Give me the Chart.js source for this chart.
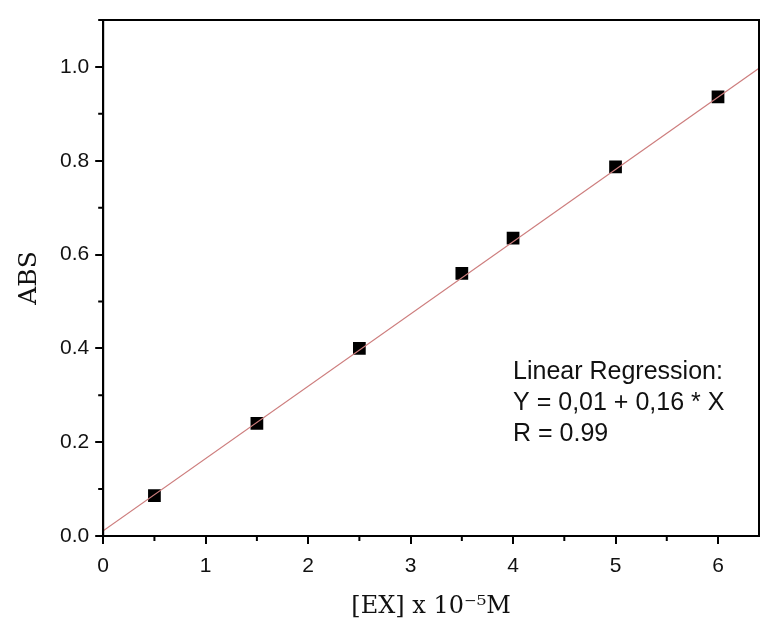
<!DOCTYPE html>
<html lang="en">

<head>
    <meta charset="UTF-8">
    <title>ABS vs [EX]</title>
    <script src="https://cdn.jsdelivr.net/npm/chart.js"></script>
    <style>
        html, body { margin: 0; padding: 0; background: #fff; }
        #wrap { width: 762px; height: 629px; }
    </style>
</head>

<body>
    <div id="wrap"><canvas id="absChart" width="762" height="629"></canvas></div>

    <script>
        const concX = [0.5, 1.5, 2.5, 3.5, 4.0, 5.0, 6.0];
        const absY = [0.086, 0.24, 0.40, 0.56, 0.635, 0.787, 0.936];

        // regression line ends (as drawn on the plot)
        const fitX = [0, 6.4];
        const fitY = [0.011, 0.997];

        const xTicks = [0, 1, 2, 3, 4, 5, 6];
        const yTicks = [0.0, 0.2, 0.4, 0.6, 0.8, 1.0];
        const noteLines = ['Linear Regression:', 'Y = 0,01 + 0,16 * X', 'R = 0.99'];

        // minor ticks + frame + regression note
        const extras = {
            id: 'extras',
            afterDraw(chart) {
                const ctx = chart.ctx;
                const area = chart.chartArea;
                const xs = chart.scales.x;
                const ys = chart.scales.y;
                ctx.save();
                ctx.strokeStyle = '#000';
                ctx.lineWidth = 2;
                ctx.strokeRect(area.left, area.top, area.right - area.left, area.bottom - area.top);

                // minor ticks halfway between majors
                ctx.beginPath();
                for (let i = 0; i < xTicks.length; i++) {
                    const px = xs.getPixelForValue(xTicks[i] + 0.5);
                    if (px > area.right) continue;
                    ctx.moveTo(px, area.bottom);
                    ctx.lineTo(px, area.bottom + 5);
                }
                for (let i = 0; i < yTicks.length; i++) {
                    const py = ys.getPixelForValue(yTicks[i] + 0.1);
                    if (py < area.top) continue;
                    ctx.moveTo(area.left, py);
                    ctx.lineTo(area.left - 5, py);
                }
                ctx.stroke();

                // note text
                ctx.fillStyle = '#111';
                ctx.font = '25px "Liberation Sans", Arial, sans-serif';
                ctx.textBaseline = 'middle';
                ctx.textAlign = 'left';
                const nx = xs.getPixelForValue(4.0);
                const ny = ys.getPixelForValue(0.35);
                noteLines.forEach((t, i) => ctx.fillText(t, nx, ny + i * 31));
                ctx.restore();
            }
        };

        const ctx = document.getElementById('absChart').getContext('2d');
        const absChart = new Chart(ctx, {
            type: 'scatter',
            data: {
                datasets: [
                    {
                        label: 'fit',
                        type: 'line',
                        data: fitX.map((x, i) => ({ x: x, y: fitY[i] })),
                        borderColor: 'rgb(205, 125, 125)',
                        borderWidth: 1.2,
                        pointRadius: 0,
                        fill: false,
                    },
                    {
                        label: 'ABS',
                        data: concX.map((x, i) => ({ x: x, y: absY[i] })),
                        pointStyle: 'rect',
                        pointRadius: 9,
                        backgroundColor: '#000',
                        borderColor: '#000',
                        borderWidth: 0,
                    },
                ],
            },
            options: {
                responsive: false,
                animation: false,
                layout: { autoPadding: false, padding: { top: 20, right: 3, left: 10, bottom: 4 } },
                plugins: {
                    legend: { display: false },
                    tooltip: { enabled: false },
                },
                scales: {
                    x: {
                        type: 'linear',
                        min: 0,
                        max: 6.4,
                        afterBuildTicks: (s) => { s.ticks = xTicks.map(v => ({ value: v })); },
                        ticks: {
                            color: '#111',
                            font: { family: '"Liberation Sans", Arial, sans-serif', size: 21 },
                            padding: 10,
                            callback: (v) => String(v),
                        },
                        grid: { drawOnChartArea: false, color: '#000', lineWidth: 2, tickLength: 8 },
                        border: { color: '#000', width: 2 },
                        title: {
                            display: true,
                            text: '[EX] x 10⁻⁵M',
                            color: '#111',
                            font: { family: '"DejaVu Serif", "Liberation Serif", serif', size: 24 },
                            padding: { top: 3 },
                        },
                    },
                    y: {
                        type: 'linear',
                        min: 0,
                        max: 1.1,
                        afterBuildTicks: (s) => { s.ticks = yTicks.map(v => ({ value: v })); },
                        ticks: {
                            color: '#111',
                            font: { family: '"Liberation Sans", Arial, sans-serif', size: 21 },
                            padding: 6,
                            callback: (v) => Number(v).toFixed(1),
                        },
                        grid: { drawOnChartArea: false, color: '#000', lineWidth: 2, tickLength: 8 },
                        border: { color: '#000', width: 2 },
                        title: {
                            display: true,
                            text: 'ABS',
                            color: '#111',
                            font: { family: '"DejaVu Serif", "Liberation Serif", serif', size: 25 },
                            padding: { bottom: 10 },
                        },
                    },
                },
            },
            plugins: [extras],
        });
    </script>
</body>

</html>
